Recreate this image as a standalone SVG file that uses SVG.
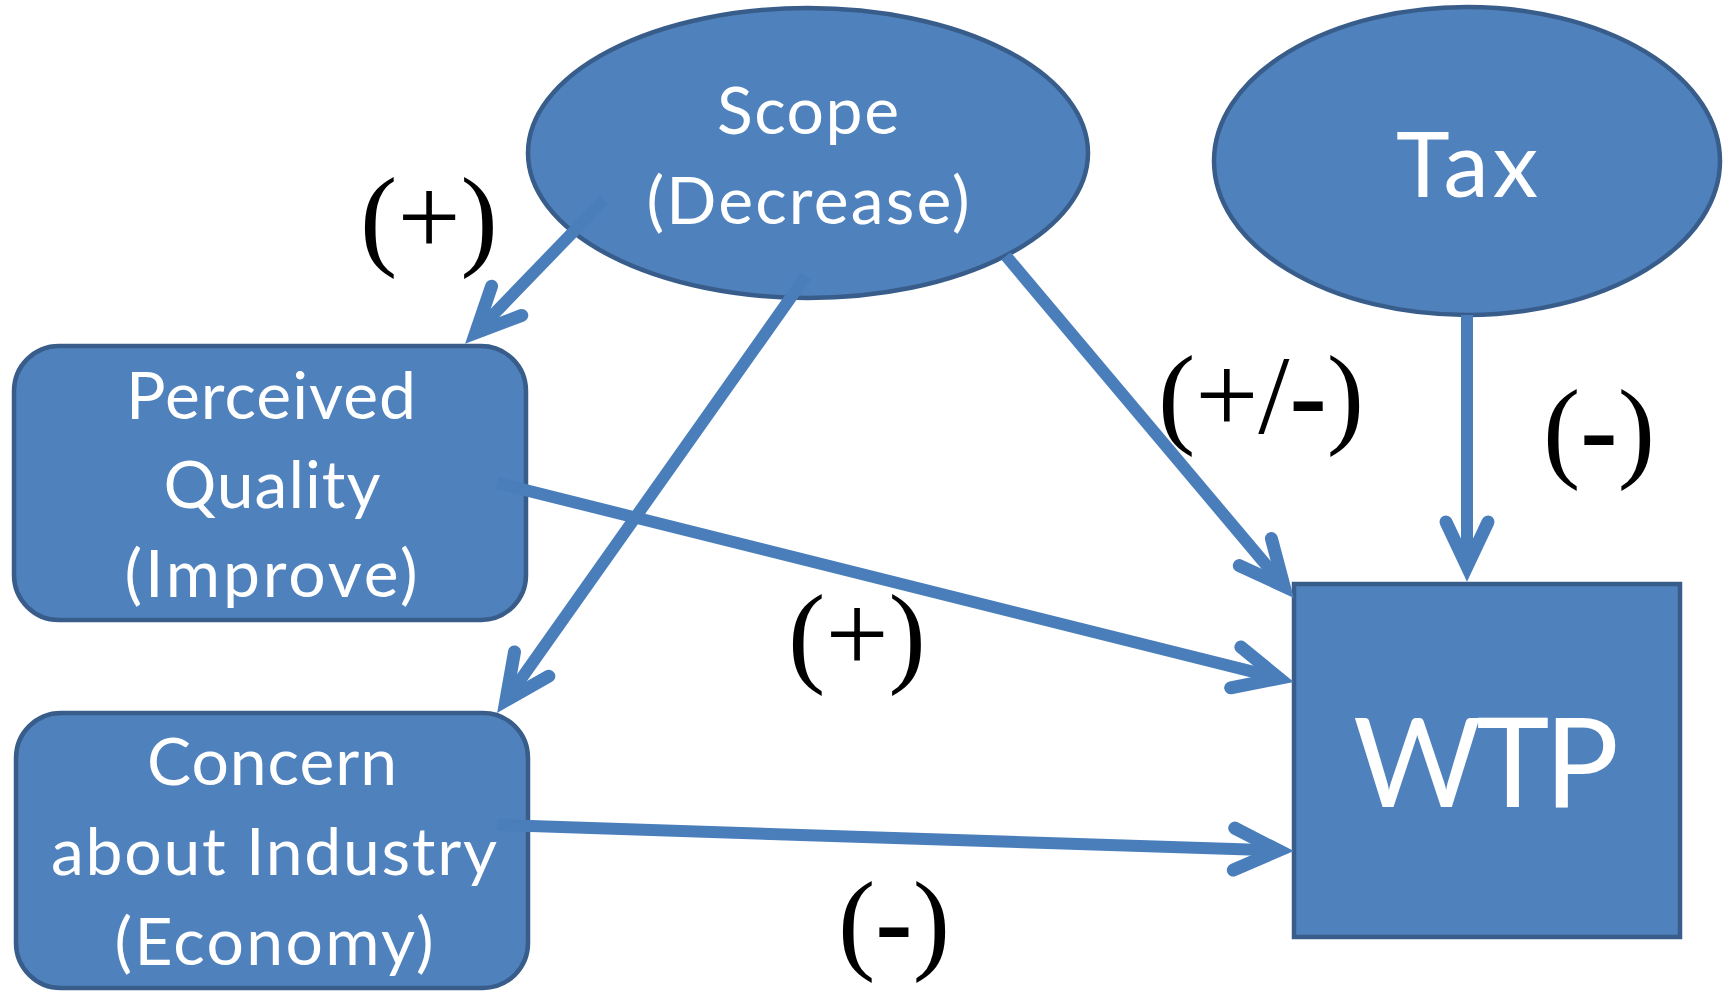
<svg xmlns="http://www.w3.org/2000/svg" width="1727" height="992" viewBox="0 0 1727 992">
<style>
.node{fill:#4F81BD;stroke:#385D8A;stroke-width:4.5}
.nt{fill:#ffffff;font-family:Lato,"Open Sans","Liberation Sans",sans-serif;font-size:66px;text-anchor:middle}
.lbl{fill:#000000;font-family:"Liberation Serif","DejaVu Serif",serif;font-size:112px;text-anchor:middle}
.conn{stroke:#4A7EBB;stroke-width:12;fill:none;marker-end:url(#arr)}
</style>
<defs>
<marker id="arr" markerUnits="userSpaceOnUse" markerWidth="120" markerHeight="120" viewBox="-60 -60 120 120" refX="0" refY="0" orient="auto" overflow="visible">
<path d="M-46,-21 L-1.4,0 L-46,21" fill="none" stroke="#4A7EBB" stroke-width="13" stroke-linecap="round" stroke-linejoin="miter" stroke-miterlimit="10"/>
</marker>
</defs>
<rect width="1727" height="992" fill="#ffffff"/>
<g id="scope">
<ellipse class="node" cx="808" cy="153" rx="280" ry="145"/>
<text class="nt" x="808" y="134" textLength="182">Scope</text>
<text class="nt" x="808" y="224" textLength="323">(Decrease)</text>
</g>
<g id="tax">
<ellipse class="node" cx="1467" cy="161" rx="253" ry="154"/>
<text class="nt" x="1467" y="197" style="font-size:91px" textLength="142">Tax</text>
</g>
<g id="perceived-quality">
<rect class="node" x="14" y="346" width="512" height="274" rx="45" ry="45"/>
<text class="nt" x="271" y="419" textLength="290">Perceived</text>
<text class="nt" x="272" y="508" textLength="217">Quality</text>
<text class="nt" x="271" y="597" textLength="293">(Improve)</text>
</g>
<g id="concern">
<rect class="node" x="16" y="713" width="512" height="275" rx="45" ry="45"/>
<text class="nt" x="272" y="785" textLength="250">Concern</text>
<text class="nt" x="274" y="875" textLength="446">about Industry</text>
<text class="nt" x="274" y="965" textLength="319">(Economy)</text>
</g>
<g id="wtp">
<rect class="node" x="1294" y="584" width="386" height="353"/>
<text class="nt" x="1486" y="807" style="font-size:124px" textLength="266">WTP</text>
</g>
<g id="connectors">
<line class="conn" x1="604" y1="200" x2="474.7" y2="333.9"/>
<line class="conn" x1="806" y1="276" x2="505.1" y2="701.6"/>
<line class="conn" x1="1006" y1="256" x2="1285" y2="587.3"/>
<line class="conn" x1="1467" y1="315" x2="1467" y2="568"/>
<line class="conn" x1="497" y1="483" x2="1280.4" y2="678.6"/>
<line class="conn" x1="497" y1="825" x2="1280" y2="850.6"/>
</g>
<g id="labels">
<text class="lbl" x="429" y="255">(+)</text>
<text class="lbl" x="1261" y="433">(+/<tspan font-weight="bold">-</tspan>)</text>
<text class="lbl" x="1599" y="467">(<tspan font-weight="bold">-</tspan>)</text>
<text class="lbl" x="857" y="672">(+)</text>
<text class="lbl" x="894" y="959">(<tspan font-weight="bold">-</tspan>)</text>
</g>
</svg>
